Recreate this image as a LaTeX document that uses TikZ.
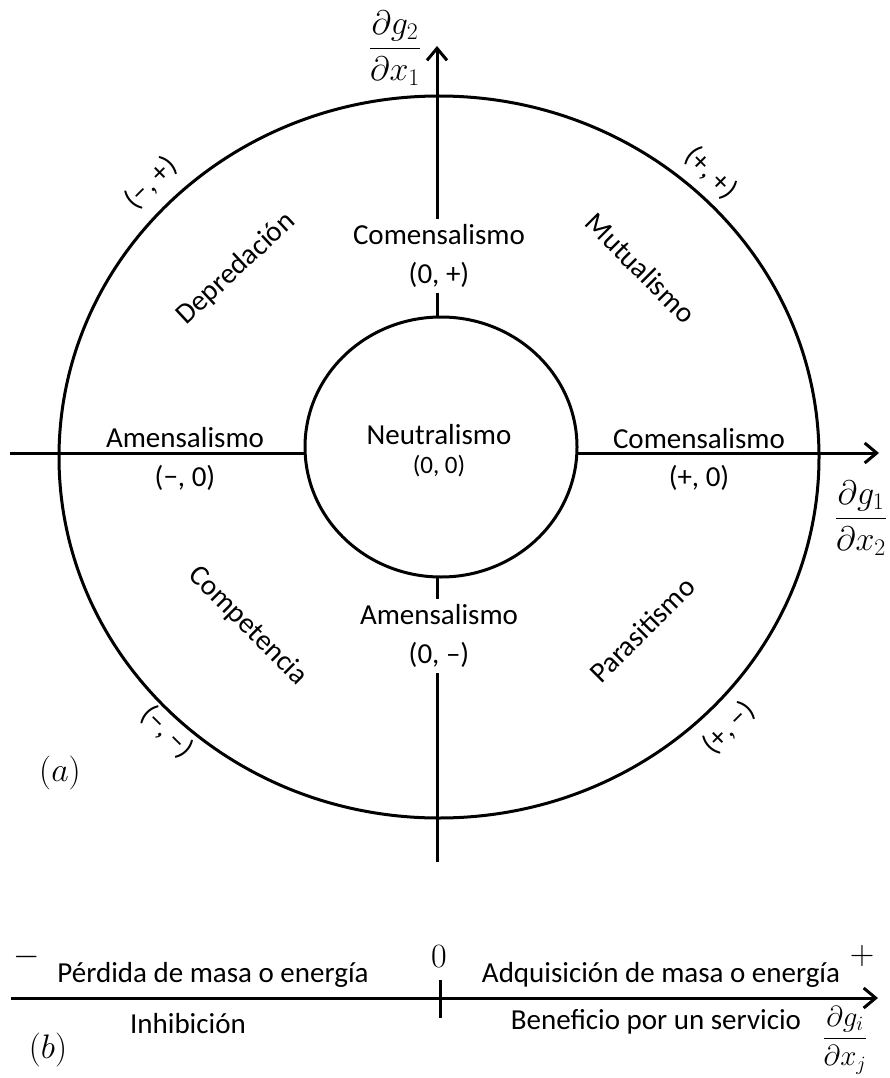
\RequirePackage{fix-cm}
\documentclass[tikz,border=0pt]{standalone}
\usepackage{amsmath}
\usepackage{fontspec}
\setmainfont{Carlito}
\usetikzlibrary{arrows.meta}
\begin{document}
\begin{tikzpicture}[x=1pt,y=-1pt,
  axis/.style={line width=3pt,-{Straight Barb[length=12pt,width=20pt,line width=3pt]}},
  ln/.style={line width=3pt},
  lbl/.style={font=\fontsize{29}{39}\selectfont, inner sep=0pt, align=center},
  small/.style={font=\fontsize{25}{30}\selectfont, inner sep=0pt},
  mth/.style={font=\fontsize{34}{40}\selectfont, inner sep=0pt},
  gap/.style={lbl, fill=white, inner sep=5pt}
]
\useasboundingbox (0,0) rectangle (890,1078);
% axes
\coordinate (xs) at (10,453);
\coordinate (xe) at (879,453);
\coordinate (ys) at (437,862);
\coordinate (ye) at (437,46);
\draw[axis] (xs) -- (xe);
\draw[axis] (ys) -- (ye);
% outer and inner circles
\draw[ln] (439,457) ellipse [x radius=380, y radius=361];
\draw[ln, fill=white] (441,447) ellipse [x radius=136, y radius=130];
% axis labels
\node[mth] (gy) at (395,48) {$\dfrac{\partial g_2}{\partial x_1}$};
\node[mth] (gx) at (861,518) {$\dfrac{\partial g_1}{\partial x_2}$};
% labels on the axes
\node[gap] (comU) at (439,256) {Comensalismo\\(0, +)};
\node[gap] (amD) at (439,636) {Amensalismo\\(0, –)};
\node[lbl] (amL) at (185,438) {Amensalismo};
\node[lbl] (amLs) at (185,478) {(−, 0)};
\node[lbl] (comR) at (699,439) {Comensalismo};
\node[lbl] (comRs) at (699,478) {(+, 0)};
\node[lbl] (neu) at (439,435) {Neutralismo};
\node[small] (neus) at (439,466) {(0, 0)};
% quadrant labels
\node[lbl, rotate=45] (mpS) at (151,183) {(−, +)};
\node[lbl, rotate=43] (dep) at (236,269) {Depredación};
\node[lbl, rotate=-45] (ppS) at (711,173) {(+, +)};
\node[lbl, rotate=-45] (mut) at (641,268) {Mutualismo};
\node[lbl, rotate=-45] (com) at (248,626) {Competencia};
\node[lbl, rotate=-45] (mmS) at (167,732) {(−, −)};
\node[lbl, rotate=45] (par) at (642,630) {Parasitismo};
\node[lbl, rotate=45] (pmS) at (729,728) {(+, −)};
\node[mth] (a) at (60,773) {$(a)$};
% panel (b)
\coordinate (bs) at (11,998);
\coordinate (be) at (878,998);
\coordinate (ta) at (440,980);
\coordinate (tb) at (440,1018);
\draw[axis] (bs) -- (be);
\draw[ln] (ta) -- (tb);
\node[mth] (minus) at (27,957) {$-$};
\node[mth] (zero) at (439,957) {$0$};
\node[mth] (plus) at (862,956) {$+$};
\node[lbl] (perd) at (213,975) {Pérdida de masa o energía};
\node[lbl] (inh) at (188,1024) {Inhibición};
\node[lbl] (adq) at (661,975) {Adquisición de masa o energía};
\node[lbl] (ben) at (656,1022) {Beneficio por un servicio};
\node[mth, font=\fontsize{29}{34}\selectfont] (gij) at (845,1040) {$\dfrac{\partial g_i}{\partial x_j}$};
\node[mth] (b) at (48,1050) {$(b)$};
\end{tikzpicture}
\end{document}
